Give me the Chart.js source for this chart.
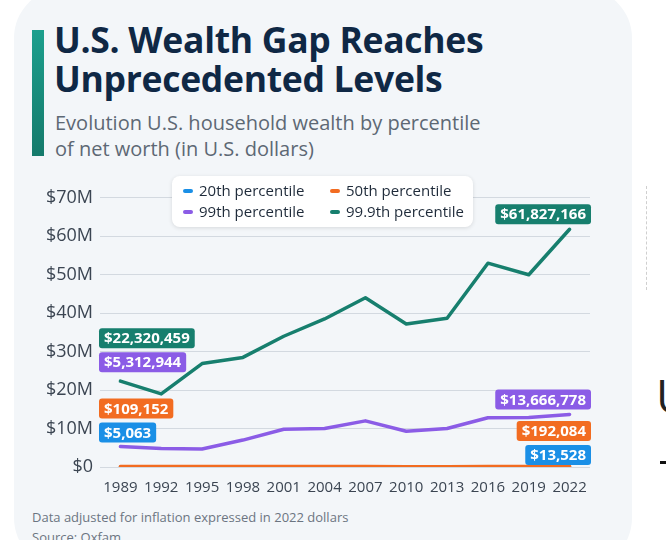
<!DOCTYPE html>
<html lang="en">
<head>
    <meta charset="UTF-8">
    <title>U.S. Wealth Gap Reaches Unprecedented Levels</title>
    <style>
        body {
            margin: 0;
            width: 666px;
            height: 540px;
            overflow: hidden;
            background: #ffffff;
            font-family: "Open Sans", Arial, sans-serif;
            position: relative;
        }
        .card {
            position: absolute;
            left: 14px;
            top: -12px;
            width: 618px;
            height: 580px;
            background: #f3f6f9;
            border-radius: 50px;
        }
        .accent {
            position: absolute;
            left: 32px;
            top: 30px;
            width: 12px;
            height: 126px;
            background: linear-gradient(#1c9f8d, #157a6b);
        }
        h1 {
            position: absolute;
            left: 54px;
            top: 20px;
            margin: 0;
            font-size: 35.5px;
            line-height: 39px;
            font-weight: 700;
            color: #0f2845;
            letter-spacing: -0.3px;
        }
        .subtitle {
            position: absolute;
            left: 55px;
            top: 110px;
            font-size: 20px;
            line-height: 26px;
            color: #5d6874;
        }
        #chart-box {
            position: absolute;
            left: 40px;
            top: 180px;
            width: 560px;
            height: 320px;
        }
        .legend {
            position: absolute;
            left: 172px;
            top: 176px;
            width: 301px;
            height: 51px;
            background: #ffffff;
            border-radius: 8px;
            box-shadow: 0 1px 4px rgba(0, 0, 0, 0.12);
            font-size: 15px;
            color: #1f2b3a;
        }
        .legend span {
            position: absolute;
            white-space: nowrap;
            line-height: 20px;
        }
        .legend i {
            display: inline-block;
            width: 10px;
            height: 4px;
            border-radius: 2px;
            margin-right: 6px;
            vertical-align: middle;
            position: relative;
            top: -1px;
        }
        .note {
            position: absolute;
            left: 32px;
            font-size: 13px;
            color: #6c7581;
        }
        .edge-u {
            position: absolute;
            left: 656px;
            top: 364px;
            font-size: 46px;
            font-weight: 400;
            color: #222;
        }
        .edge-dash {
            position: absolute;
            left: 660px;
            top: 461px;
            width: 6px;
            height: 3px;
            background: #111;
        }
        .edge-line {
            position: absolute;
            left: 646px;
            top: 186px;
            height: 104px;
            border-left: 1px dashed #cfcfcf;
        }
    </style>
</head>
<body>
    <div class="card"></div>
    <div class="accent"></div>
    <h1>U.S. Wealth Gap Reaches<br>Unprecedented Levels</h1>
    <div class="subtitle">Evolution U.S. household wealth by percentile<br>of net worth (in U.S. dollars)</div>

    <div id="chart-box"><canvas id="wealthChart"></canvas></div>

    <div class="legend" id="legend"></div>

    <div class="note" style="top: 508px;">Data adjusted for inflation expressed in 2022 dollars</div>
    <div class="note" style="top: 528px;">Source: Oxfam</div>

    <div class="edge-line"></div>
    <div class="edge-u">U</div>
    <div class="edge-dash"></div>

    <script src="https://cdn.jsdelivr.net/npm/chart.js"></script>
    <script>
        // years of the survey
        const years = ['1989', '1992', '1995', '1998', '2001', '2004', '2007', '2010', '2013', '2016', '2019', '2022'];

        // household wealth in U.S. dollars (2022 dollars)
        const p20 = [5063, 5700, 7100, 9300, 11100, 9900, 11800, 3500, 3300, 5200, 8400, 13528];
        const p50 = [109152, 98000, 102000, 123000, 136000, 141000, 150000, 92000, 94000, 107000, 135000, 192084];
        const p99 = [5312944, 4800000, 4700000, 7000000, 9800000, 10000000, 12000000, 9300000, 10000000, 12800000, 12900000, 13666778];
        const p999 = [22320459, 19000000, 26900000, 28500000, 34000000, 38500000, 44000000, 37200000, 38700000, 53000000, 50000000, 61827166];

        const yTicks = [0, 10000000, 20000000, 30000000, 40000000, 50000000, 60000000, 70000000];

        const seriesNames = ['20th percentile', '50th percentile', '99th percentile', '99.9th percentile'];
        const seriesColors = ['#1a8fe6', '#f26c21', '#8b5ce6', '#177f6e'];

        // html legend in two columns
        const legendEl = document.getElementById('legend');
        const legendPos = [[11, 4], [158, 4], [11, 25], [158, 25]];
        seriesNames.forEach((name, i) => {
            const item = document.createElement('span');
            item.style.left = legendPos[i][0] + 'px';
            item.style.top = legendPos[i][1] + 'px';
            item.innerHTML = `<i style="background:${seriesColors[i]}"></i>${name}`;
            legendEl.appendChild(item);
        });

        function money(v) {
            return '$' + v.toLocaleString('en-US');
        }

        function drawTag(ctx, text, color, x, bottom, align) {
            ctx.font = 'bold 15px "Open Sans", Arial, sans-serif';
            const w = ctx.measureText(text).width + 10;
            const h = 20;
            const left = align === 'left' ? x : x - w;
            ctx.fillStyle = color;
            ctx.beginPath();
            ctx.roundRect(left, bottom - h, w, h, 3);
            ctx.fill();
            ctx.fillStyle = '#ffffff';
            ctx.textBaseline = 'middle';
            ctx.textAlign = 'left';
            ctx.fillText(text, left + 5, bottom - h / 2 + 1);
            return bottom - h;
        }

        // start / end value tags, stacked next to the lines
        const tagPlugin = {
            id: 'valueTags',
            afterDatasetsDraw(chart) {
                const ctx = chart.ctx;
                const area = chart.chartArea;
                const pt = (ds, i) => chart.getDatasetMeta(ds).data[i];
                const last = years.length - 1;
                ctx.save();

                // left side
                let top = drawTag(ctx, money(p99[0]), seriesColors[2], area.left - 1, pt(3, 0).y - 9, 'left');
                drawTag(ctx, money(p999[0]), seriesColors[3], area.left - 1, top - 4, 'left');
                top = drawTag(ctx, money(p20[0]), seriesColors[0], area.left - 1, pt(2, 0).y - 4, 'left');
                drawTag(ctx, money(p50[0]), seriesColors[1], area.left - 1, top - 4, 'left');

                // right side
                drawTag(ctx, money(p999[last]), seriesColors[3], area.right + 1, pt(3, last).y - 5, 'right');
                drawTag(ctx, money(p99[last]), seriesColors[2], area.right + 1, pt(2, last).y - 5, 'right');
                top = drawTag(ctx, money(p20[last]), seriesColors[0], area.right + 1, pt(0, last).y - 2, 'right');
                drawTag(ctx, money(p50[last]), seriesColors[1], area.right + 1, top - 4, 'right');

                ctx.restore();
            }
        };

        const datasets = [p20, p50, p99, p999].map((values, i) => ({
            label: seriesNames[i],
            data: values,
            borderColor: seriesColors[i],
            backgroundColor: seriesColors[i],
            borderWidth: 3.5,
            pointRadius: 0,
            tension: 0,
            borderCapStyle: 'round',
            borderJoinStyle: 'round',
            order: [1, 0, 2, 3][i]
        }));

        new Chart(document.getElementById('wealthChart'), {
            type: 'line',
            data: { labels: years, datasets: datasets },
            options: {
                responsive: true,
                maintainAspectRatio: false,
                animation: false,
                layout: { padding: { top: 14, right: 10, bottom: 7, left: 0 } },
                plugins: {
                    legend: { display: false },
                    tooltip: { enabled: false }
                },
                scales: {
                    x: {
                        offset: true,
                        grid: { display: false },
                        border: { display: false },
                        ticks: {
                            color: '#3b4552',
                            font: { family: '"Open Sans", Arial, sans-serif', size: 15 },
                            padding: 4,
                            maxRotation: 0,
                            autoSkip: false
                        },
                        afterFit(scale) { scale.height = 26; }
                    },
                    y: {
                        min: 0,
                        max: 70000000,
                        border: { display: false },
                        grid: { color: '#d3d9e0', drawTicks: false, lineWidth: 1 },
                        afterBuildTicks(scale) {
                            scale.ticks = yTicks.map(v => ({ value: v }));
                        },
                        ticks: {
                            color: '#3b4552',
                            font: { family: '"Open Sans", Arial, sans-serif', size: 18 },
                            padding: 7,
                            callback: v => v === 0 ? '$0' : '$' + (v / 1000000) + 'M'
                        },
                        afterFit(scale) { scale.width = 60; }
                    }
                }
            },
            plugins: [tagPlugin]
        });
    </script>
</body>
</html>
